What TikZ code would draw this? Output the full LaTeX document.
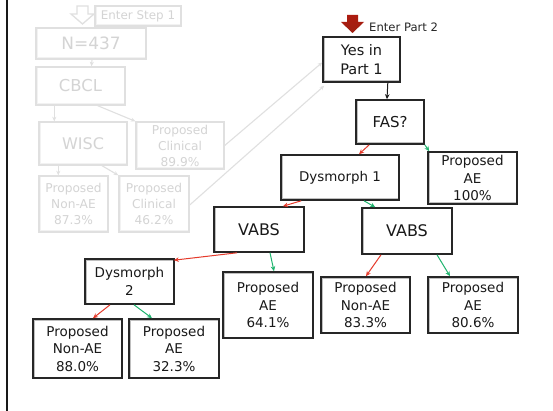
\documentclass[tikz,border=0pt]{standalone}
\usepackage{fontspec}
\setmainfont{DejaVu Sans}
\usetikzlibrary{arrows.meta}
\definecolor{nored}{HTML}{E53A2B}
\definecolor{yesgreen}{HTML}{1FB46E}
\definecolor{darkred}{HTML}{9E2012}
\definecolor{fadeline}{HTML}{E0E0E0}
\definecolor{fadetext}{HTML}{D4D4D4}
\tikzset{
  x=1pt, y=-1pt,
  box/.style={draw=black!85, line width=1.6pt, fill=white, align=center,
    inner sep=0pt, text=black!90, font=\fontsize{13.5}{17.5}\selectfont,
    path picture={\draw[gray!50, line width=3pt]
      (path picture bounding box.south west) rectangle (path picture bounding box.north east);}},
  fadebox/.style={draw=fadeline, line width=1.4pt, fill=white, align=center,
    inner sep=0pt, text=fadetext, font=\fontsize{12.2}{16}\selectfont,
    path picture={\draw[black!5, line width=3pt]
      (path picture bounding box.south west) rectangle (path picture bounding box.north east);}},
  tip/.style={-{Stealth[length=5pt,width=4.5pt]}},
  noarrow/.style={tip, draw=nored, line width=1pt},
  yesarrow/.style={tip, draw=yesgreen, line width=1pt},
  fadearrow/.style={-{Stealth[length=4.5pt,width=4pt]}, draw=fadeline, line width=1.1pt},
}
\begin{document}
\begin{tikzpicture}
\useasboundingbox (0,0) rectangle (553,411);
\fill[white] (0,0) rectangle (553,411);
% left page rule
\draw[black!90, line width=2pt] (6.5,0) -- (6.5,411);

% ---- Part 1 (greyed out) ----
\draw[fadeline, line width=1.3pt, fill=white]
  (77,6) -- (88,6) -- (88,14) -- (94,14) -- (82.5,24) -- (71,14) -- (77,14) -- cycle;
\node[fadebox, minimum width=86pt, minimum height=20pt, font=\fontsize{11.9}{14}\selectfont] (step1) at (138,16) {Enter Step 1};
\node[fadebox, minimum width=110pt, minimum height=31pt, font=\fontsize{17}{20}\selectfont] (n437) at (91,43.5) {N=437};
\node[fadebox, minimum width=89pt, minimum height=38pt, font=\fontsize{16.4}{20}\selectfont] (cbcl) at (80.5,86) {CBCL};
\node[fadebox, minimum width=88pt, minimum height=43pt, font=\fontsize{16}{20}\selectfont] (wisc) at (83,143.5) {WISC};
\node[fadebox, minimum width=88pt, minimum height=47pt] (clin899) at (180,145.5) {Proposed\\Clinical\\89.9\%};
\node[fadebox, minimum width=69pt, minimum height=56pt] (non873) at (73.5,204) {Proposed\\Non-AE\\87.3\%};
\node[fadebox, minimum width=70pt, minimum height=56pt] (clin462) at (154,204) {Proposed\\Clinical\\46.2\%};

\draw[fadearrow] ([xshift=1pt]n437.south) -- ([xshift=11pt]cbcl.north);
\draw[fadearrow] ([xshift=19pt]cbcl.south west) -- ([xshift=16pt]wisc.north west);
\draw[fadearrow] ([xshift=-28pt]cbcl.south east) -- (clin899.north west);
\draw[fadearrow] ([xshift=20pt]wisc.south west) -- ([xshift=20pt]non873.north west);
\draw[fadearrow] ([xshift=19pt]wisc.south) -- (clin462.north west);

% ---- Part 2 ----
\shade[top color=darkred!85!red, bottom color=darkred]
  (347,15) -- (358,15) -- (358,22) -- (364,22) -- (352.5,33) -- (341,22) -- (347,22) -- cycle;
\node[anchor=west, inner sep=0pt, text=black!85, font=\fontsize{11.6}{14}\selectfont] (part2) at (369,27) {Enter Part 2};

\node[box, minimum width=77pt, minimum height=45pt, font=\fontsize{14.5}{19.5}\selectfont] (yes) at (361.5,59.5) {Yes in\\Part 1};
\node[box, minimum width=68pt, minimum height=44pt, font=\fontsize{15}{18}\selectfont] (fas) at (390,122) {FAS?};
\node[box, minimum width=118pt, minimum height=45pt, font=\fontsize{13.4}{17}\selectfont] (dys1) at (340,177.5) {Dysmorph 1};
\node[box, minimum width=89pt, minimum height=52pt] (ae100) at (472.5,178) {Proposed\\AE\\100\%};
\node[box, minimum width=90pt, minimum height=45pt, font=\fontsize{16}{19}\selectfont] (vabsL) at (259,229.5) {VABS};
\node[box, minimum width=90pt, minimum height=46pt, font=\fontsize{16}{19}\selectfont] (vabsR) at (407,231) {VABS};
\node[box, minimum width=89pt, minimum height=45pt, font=\fontsize{13.5}{18}\selectfont] (dys2) at (129.5,281.5) {Dysmorph\\2};
\node[box, minimum width=90pt, minimum height=66pt] (ae641) at (268,305) {Proposed\\AE\\64.1\%};
\node[box, minimum width=89pt, minimum height=56pt] (non833) at (365.5,305) {Proposed\\Non-AE\\83.3\%};
\node[box, minimum width=90pt, minimum height=56pt] (ae806) at (473,305) {Proposed\\AE\\80.6\%};
\node[box, minimum width=89pt, minimum height=59pt] (non880) at (77.5,348.5) {Proposed\\Non-AE\\88.0\%};
\node[box, minimum width=90pt, minimum height=59pt] (ae323) at (174,348.5) {Proposed\\AE\\32.3\%};

% links from Part 1 into Part 2
\draw[fadearrow] (clin899.east) -- ([yshift=-3pt]yes.west);
\draw[fadearrow] ([yshift=-1pt]clin462.east) -- ([xshift=2pt,yshift=-3pt]yes.south west);

% decision arrows
\draw[tip, line width=1pt, black!90] ([xshift=-13pt]yes.south east) -- ([xshift=-3pt]fas.north);
\draw[noarrow] ([xshift=14pt]fas.south west) -- ([xshift=19pt]dys1.north);
\draw[yesarrow] (fas.south east) -- ([xshift=2pt]ae100.north west);
\draw[noarrow] ([xshift=21pt]dys1.south west) -- ([xshift=24pt]vabsL.north);
\draw[yesarrow] ([xshift=24pt]dys1.south) -- ([xshift=14pt]vabsR.north west);
\draw[noarrow] ([xshift=-22pt]vabsL.south) -- ([xshift=-1pt,yshift=-2pt]dys2.north east);
\draw[yesarrow] ([xshift=11pt]vabsL.south) -- ([xshift=6pt]ae641.north);
\draw[noarrow] ([xshift=-26pt]vabsR.south) -- ([xshift=0.5pt]non833.north);
\draw[yesarrow] ([xshift=30pt]vabsR.south) -- ([xshift=-23pt]ae806.north);
\draw[noarrow] ([xshift=-19.5pt]dys2.south) -- ([xshift=15.5pt]non880.north);
\draw[yesarrow] ([xshift=4.5pt]dys2.south) -- ([xshift=-22pt]ae323.north);
\end{tikzpicture}
\end{document}
